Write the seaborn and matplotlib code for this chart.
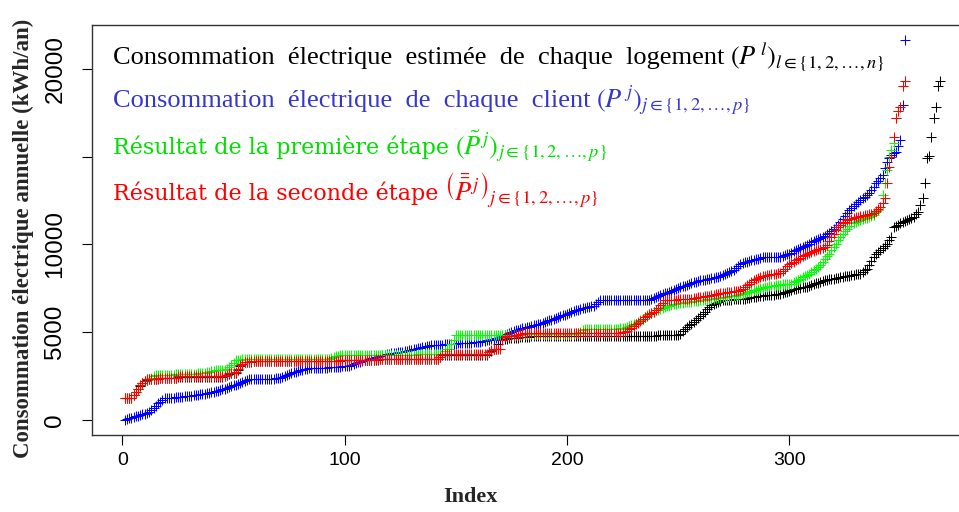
import numpy as np
import matplotlib
matplotlib.use("Agg")
import matplotlib.pyplot as plt
import seaborn as sns

# --------------------------- DATA (sorted annual consumption, kWh/an) ---------------------------

logement_vals = [
    1250, 1250, 1255, 1255, 1400, 1560, 1750, 1940, 2080, 2220,
    2290, 2330, 2340, 2340, 2350, 2350, 2360, 2360, 2370, 2370,
    2380, 2380, 2390, 2390, 2450, 2460, 2460, 2460, 2460, 2460,
    2460, 2460, 2460, 2460, 2460, 2460, 2460, 2460, 2460, 2460,
    2460, 2460, 2460, 2460, 2460, 2500, 2560, 2620, 2650, 2670,
    2690, 2850, 3050, 3180, 3270, 3300, 3310, 3320, 3330, 3330,
    3340, 3340, 3340, 3340, 3340, 3340, 3340, 3340, 3340, 3340,
    3340, 3340, 3340, 3340, 3340, 3340, 3340, 3340, 3340, 3340,
    3340, 3340, 3340, 3340, 3340, 3340, 3340, 3340, 3340, 3340,
    3340, 3340, 3340, 3340, 3340, 3340, 3340, 3370, 3380, 3390,
    3390, 3390, 3390, 3390, 3390, 3400, 3400, 3400, 3410, 3410,
    3410, 3420, 3420, 3430, 3430, 3440, 3440, 3450, 3460, 3470,
    3470, 3470, 3470, 3470, 3470, 3470, 3470, 3470, 3470, 3470,
    3470, 3470, 3470, 3470, 3470, 3470, 3470, 3470, 3470, 3470,
    3470, 3470, 3590, 3720, 3720, 3720, 3720, 3720, 3720, 3720,
    3720, 3720, 3720, 3720, 3720, 3720, 3720, 3720, 3720, 3720,
    3720, 3720, 3720, 3720, 3840, 3940, 4040, 4040, 4300, 4520,
    4580, 4600, 4620, 4640, 4650, 4660, 4680, 4690, 4700, 4710,
    4720, 4730, 4740, 4750, 4760, 4770, 4770, 4780, 4780, 4790,
    4790, 4790, 4800, 4800, 4800, 4800, 4800, 4800, 4800, 4800,
    4800, 4800, 4800, 4800, 4800, 4800, 4800, 4800, 4800, 4800,
    4800, 4800, 4800, 4800, 4800, 4800, 4800, 4800, 4800, 4800,
    4800, 4800, 4800, 4800, 4800, 4800, 4800, 4800, 4800, 4800,
    4800, 4800, 4800, 4800, 4800, 4800, 4800, 4800, 4800, 4800,
    4810, 4810, 4810, 4810, 4810, 4810, 4810, 4810, 4810, 4810,
    4900, 5050, 5190, 5290, 5380, 5480, 5570, 5690, 5810, 5930,
    6050, 6170, 6290, 6400, 6520, 6580, 6640, 6700, 6760, 6810,
    6820, 6830, 6840, 6850, 6860, 6870, 6880, 6890, 6900, 6910,
    6930, 6950, 6970, 6990, 7010, 7030, 7050, 7070, 7090, 7100,
    7110, 7120, 7140, 7150, 7160, 7190, 7230, 7270, 7310, 7350,
    7390, 7430, 7470, 7500, 7520, 7540, 7560, 7570, 7620, 7670,
    7720, 7770, 7810, 7860, 7900, 7950, 7980, 8000, 8030, 8050,
    8080, 8100, 8120, 8140, 8170, 8190, 8220, 8240, 8260, 8290,
    8310, 8330, 8430, 8520, 8620, 8840, 9060, 9280, 9470, 9570,
    9660, 9790, 9910, 10040, 10230, 10420, 10990, 11060, 11120, 11190,
    11250, 11320, 11380, 11440, 11510, 11570, 11710, 11850, 12230, 12610,
    13470, 14900, 15050, 16130, 17180, 17840, 19000, 19300,
]

client_vals = [
    0, 40, 80, 110, 150, 190, 230, 270, 310, 350,
    390, 430, 560, 690, 810, 930, 1030, 1120, 1215, 1230,
    1240, 1250, 1260, 1280, 1290, 1300, 1320, 1340, 1350, 1370,
    1380, 1400, 1410, 1430, 1450, 1470, 1490, 1510, 1540, 1560,
    1590, 1620, 1650, 1690, 1730, 1770, 1820, 1870, 1910, 1960,
    2010, 2060, 2110, 2150, 2200, 2250, 2300, 2340, 2340, 2340,
    2340, 2340, 2340, 2350, 2350, 2350, 2350, 2350, 2360, 2360,
    2400, 2450, 2500, 2550, 2600, 2650, 2700, 2740, 2780, 2810,
    2840, 2870, 2900, 2930, 2950, 2950, 2960, 2960, 2970, 2970,
    2980, 2980, 2990, 2990, 3000, 3010, 3020, 3030, 3040, 3050,
    3060, 3080, 3100, 3160, 3230, 3290, 3320, 3360, 3390, 3430,
    3460, 3500, 3530, 3570, 3600, 3630, 3670, 3700, 3740, 3770,
    3790, 3810, 3830, 3850, 3870, 3890, 3910, 3940, 3960, 3990,
    4020, 4050, 4080, 4110, 4140, 4160, 4190, 4220, 4240, 4250,
    4260, 4270, 4280, 4290, 4300, 4310, 4320, 4330, 4330, 4340,
    4350, 4360, 4370, 4380, 4380, 4390, 4400, 4410, 4420, 4430,
    4460, 4490, 4510, 4540, 4570, 4600, 4630, 4660, 4690, 4720,
    4770, 4830, 4880, 4940, 4990, 5050, 5100, 5140, 5170, 5210,
    5240, 5280, 5310, 5350, 5380, 5410, 5450, 5480, 5530, 5570,
    5620, 5670, 5710, 5760, 5810, 5850, 5900, 5950, 6000, 6040,
    6090, 6140, 6180, 6230, 6280, 6330, 6360, 6390, 6420, 6440,
    6470, 6500, 6600, 6710, 6810, 6810, 6810, 6810, 6810, 6810,
    6810, 6810, 6810, 6810, 6810, 6810, 6810, 6810, 6810, 6810,
    6810, 6810, 6810, 6810, 6810, 6810, 6810, 6870, 6930, 6990,
    7040, 7100, 7150, 7200, 7250, 7300, 7350, 7400, 7450, 7500,
    7550, 7600, 7650, 7700, 7750, 7800, 7850, 7880, 7910, 7940,
    7960, 7990, 8020, 8040, 8070, 8100, 8130, 8150, 8180, 8240,
    8290, 8350, 8410, 8460, 8520, 8650, 8770, 8900, 8940, 8970,
    9010, 9040, 9080, 9110, 9150, 9180, 9220, 9250, 9260, 9260,
    9270, 9270, 9280, 9280, 9290, 9300, 9340, 9380, 9430, 9470,
    9530, 9600, 9660, 9720, 9790, 9850, 9910, 9980, 10040, 10110,
    10170, 10240, 10300, 10360, 10430, 10490, 10560, 10620, 10740, 10850,
    10970, 11090, 11260, 11430, 11610, 11780, 11950, 12060, 12180, 12290,
    12410, 12520, 12620, 12710, 12810, 12900, 13090, 13280, 13470, 13630,
    13790, 13950, 14330, 14700, 14900, 15090, 15180, 15280, 15600, 15940,
    17940, 21630,
]

etape1_vals = [
    1255, 1255, 1260, 1260, 1420, 1575, 1770, 1960, 2100, 2240,
    2300, 2340, 2400, 2500, 2540, 2550, 2550, 2560, 2560, 2570,
    2570, 2580, 2580, 2590, 2590, 2590, 2600, 2600, 2600, 2610,
    2610, 2620, 2630, 2640, 2650, 2670, 2690, 2710, 2740, 2770,
    2790, 2810, 2810, 2820, 2820, 2830, 2900, 3000, 3100, 3250,
    3400, 3420, 3430, 3440, 3440, 3440, 3440, 3440, 3440, 3440,
    3440, 3440, 3440, 3440, 3440, 3440, 3440, 3440, 3440, 3440,
    3440, 3440, 3440, 3440, 3440, 3440, 3440, 3440, 3440, 3440,
    3440, 3440, 3440, 3440, 3440, 3440, 3440, 3440, 3440, 3440,
    3440, 3450, 3460, 3500, 3560, 3620, 3660, 3670, 3670, 3670,
    3670, 3670, 3670, 3670, 3670, 3670, 3670, 3670, 3670, 3670,
    3680, 3680, 3680, 3690, 3690, 3690, 3700, 3700, 3700, 3700,
    3700, 3700, 3710, 3710, 3710, 3710, 3720, 3720, 3720, 3720,
    3720, 3720, 3730, 3730, 3730, 3730, 3730, 3730, 3730, 3730,
    3730, 3730, 3730, 3730, 3900, 4050, 4050, 4300, 4550, 4810,
    4810, 4810, 4810, 4810, 4810, 4810, 4810, 4810, 4810, 4810,
    4810, 4810, 4810, 4810, 4810, 4810, 4810, 4810, 4810, 4810,
    4810, 4820, 4820, 4830, 4840, 4850, 4850, 4860, 4860, 4870,
    4870, 4880, 4880, 4880, 4880, 4890, 4890, 4890, 4890, 4900,
    4900, 4900, 4900, 4900, 4900, 4900, 4900, 4900, 4900, 4900,
    4900, 4900, 4910, 4920, 4950, 5000, 5100, 5190, 5190, 5190,
    5190, 5190, 5190, 5190, 5190, 5190, 5190, 5190, 5190, 5190,
    5190, 5200, 5200, 5210, 5220, 5250, 5300, 5350, 5400, 5440,
    5480, 5580, 5670, 5770, 5860, 5960, 6050, 6110, 6170, 6230,
    6280, 6340, 6380, 6420, 6460, 6500, 6540, 6580, 6620, 6640,
    6660, 6670, 6690, 6710, 6730, 6740, 6760, 6780, 6790, 6810,
    6830, 6840, 6860, 6880, 6890, 6910, 6930, 6950, 6960, 6980,
    6990, 7000, 7030, 7060, 7080, 7110, 7140, 7160, 7190, 7220,
    7260, 7300, 7340, 7380, 7420, 7460, 7500, 7530, 7560, 7580,
    7600, 7620, 7640, 7660, 7680, 7700, 7710, 7730, 7740, 7750,
    7760, 7830, 7900, 7970, 8040, 8110, 8190, 8260, 8330, 8430,
    8520, 8620, 8720, 8810, 8980, 9140, 9310, 9470, 9660, 9850,
    10040, 10230, 10420, 10570, 10730, 10880, 11040, 11190, 11240, 11290,
    11330, 11380, 11430, 11480, 11520, 11570, 11620, 11660, 11820, 11980,
    12140, 12800, 13470, 14230, 15000, 15370, 15750, 17180, 17600, 17840,
    19000, 19300,
]

etape2_vals = [
    1255, 1255, 1260, 1260, 1420, 1575, 1770, 1960, 2100, 2240,
    2300, 2340, 2340, 2350, 2350, 2360, 2360, 2370, 2370, 2380,
    2380, 2390, 2390, 2400, 2470, 2470, 2470, 2470, 2470, 2470,
    2470, 2470, 2470, 2470, 2470, 2470, 2470, 2470, 2470, 2470,
    2470, 2470, 2470, 2470, 2470, 2520, 2580, 2640, 2660, 2680,
    2700, 2900, 3100, 3200, 3290, 3310, 3320, 3330, 3340, 3340,
    3350, 3350, 3350, 3350, 3350, 3350, 3350, 3350, 3350, 3350,
    3350, 3350, 3350, 3350, 3350, 3350, 3350, 3350, 3350, 3350,
    3350, 3350, 3350, 3350, 3350, 3350, 3350, 3350, 3350, 3350,
    3350, 3350, 3350, 3350, 3350, 3350, 3350, 3380, 3390, 3400,
    3400, 3400, 3400, 3400, 3400, 3410, 3410, 3410, 3420, 3420,
    3420, 3430, 3430, 3440, 3440, 3450, 3450, 3460, 3470, 3480,
    3480, 3480, 3480, 3480, 3480, 3480, 3480, 3480, 3480, 3480,
    3480, 3480, 3480, 3480, 3480, 3480, 3480, 3480, 3480, 3480,
    3480, 3480, 3600, 3730, 3730, 3730, 3730, 3730, 3730, 3730,
    3730, 3730, 3730, 3730, 3730, 3730, 3730, 3730, 3730, 3730,
    3730, 3730, 3730, 3730, 3850, 3950, 4050, 4050, 4050, 4050,
    4530, 4700, 4780, 4780, 4780, 4800, 4820, 4850, 4880, 4910,
    4920, 4930, 4930, 4930, 4930, 4930, 4930, 4930, 4930, 4930,
    4930, 4930, 4930, 4930, 4930, 4930, 4930, 4930, 4930, 4930,
    4930, 4930, 4930, 4930, 4930, 4930, 4930, 4930, 4930, 4930,
    4930, 4930, 4930, 4930, 4940, 4940, 4940, 4940, 4950, 4950,
    4950, 4960, 4960, 4970, 4980, 5000, 5050, 5150, 5240, 5340,
    5440, 5540, 5650, 5770, 5850, 5930, 6010, 6080, 6160, 6240,
    6380, 6520, 6660, 6810, 6820, 6830, 6840, 6850, 6850, 6860,
    6870, 6880, 6880, 6890, 6900, 6910, 6930, 6950, 6970, 6980,
    7000, 7030, 7050, 7080, 7110, 7130, 7160, 7190, 7210, 7230,
    7250, 7260, 7280, 7300, 7320, 7340, 7360, 7380, 7480, 7570,
    7670, 7760, 7860, 7950, 8010, 8070, 8130, 8180, 8210, 8240,
    8260, 8280, 8300, 8330, 8350, 8370, 8490, 8620, 8750, 8870,
    8940, 9000, 9080, 9160, 9240, 9310, 9390, 9470, 9520, 9570,
    9610, 9660, 9710, 9760, 9800, 9850, 9980, 10200, 10400, 10600,
    10800, 10990, 11090, 11190, 11280, 11380, 11420, 11460, 11500, 11530,
    11570, 11600, 11630, 11660, 11690, 11720, 11740, 11760, 11890, 12010,
    12140, 12380, 12610, 13470, 14420, 15000, 16130, 17180, 17600, 17840,
    19000, 19300,
]

series = [
    ("logement", logement_vals, "black"),
    ("client", client_vals, "blue"),
    ("etape1", etape1_vals, "#00FF00"),
    ("etape2", etape2_vals, "red"),
]

# label text, math part, colour, font family, font size
legend_lines = [
    ("Consommation  électrique  estimée  de  chaque  logement",
     r"$\left(P^{\,l}\right)_{l\in\{1,2,\ldots,n\}}$", "black", "Liberation Serif", 19),
    ("Consommation  électrique  de  chaque  client",
     r"$\left(P^{\,j}\right)_{j\in\{1,2,\ldots,p\}}$", "#3535D0", "Liberation Serif", 19),
    ("Résultat de la première étape",
     r"$\left(\tilde{P}^{\,j}\right)_{j\in\{1,2,\ldots,p\}}$", "#00E000", "DejaVu Serif", 16),
    ("Résultat de la seconde étape",
     r"$\left(\bar{\bar{P}}^{\,j}\right)_{j\in\{1,2,\ldots,p\}}$", "#FF0000", "DejaVu Serif", 16),
]

# --------------------------- STYLE ---------------------------

sns.set_theme(style="ticks")
plt.rcParams["font.family"] = ["Liberation Serif", "DejaVu Serif"]
plt.rcParams["mathtext.fontset"] = "stix"

W, H = 959, 512
fig = plt.figure(figsize=(W / 100, H / 100), dpi=100)
ax = fig.add_axes([92 / W, 77 / H, 881 / W, 410 / H])

for name, vals, col in series:
    idx = np.arange(1, len(vals) + 1)
    sns.scatterplot(x=idx, y=vals, marker="+", color=col, s=55,
                    linewidth=0.75, ax=ax, legend=False)

# R-like axis ranges (4 % padding)
n_max = max(len(v) for _, v, _ in series)
y_all = np.concatenate([v for _, v, _ in series])
xr = n_max - 1
yr = y_all.max() - y_all.min()
ax.set_xlim(1 - 0.04 * xr, n_max + 0.04 * xr)
ax.set_ylim(y_all.min() - 0.04 * yr, y_all.max() + 0.04 * yr)

ax.set_xticks([0, 100, 200, 300])
ax.set_xticklabels(["0", "100", "200", "300"], family="Liberation Sans", fontsize=14)
ax.set_yticks([0, 5000, 10000, 15000, 20000])
ax.set_yticklabels(["0", "5000", "10000", "", "20000"], family="Liberation Sans",
                   fontsize=17.5, rotation=90, va="center")
ax.tick_params(axis="x", length=7.5, width=0.8, pad=5, colors="black")
ax.tick_params(axis="y", length=7.5, width=0.8, pad=11, colors="black")

for sp in ax.spines.values():
    sp.set_visible(True)
    sp.set_color("#333333")
    sp.set_linewidth(1.0)

ax.set_xlabel("Index", fontsize=16, fontweight="bold")
ax.set_ylabel("Consommation électrique annuelle (kWh/an)", fontsize=16.5,
              fontweight="bold")
ax.yaxis.set_label_coords(-58 / 881, 0.48)
ax.xaxis.set_label_coords(0.43, -0.128)

# legend drawn as coloured text: label in its font, math part right after it
renderer = fig.canvas.get_renderer()
baselines = [64, 107, 154, 200]
for (label, math, col, fam, size), yb in zip(legend_lines, baselines):
    t = fig.text(113 / W, 1 - yb / H, label, color=col, fontsize=size,
                 family=fam, va="baseline", ha="left")
    x_end = t.get_window_extent(renderer=renderer).x1
    fig.text((x_end + 6) / W, 1 - yb / H, math, color=col, fontsize=19,
             va="baseline", ha="left")

fig.savefig("out.png", dpi=100)
